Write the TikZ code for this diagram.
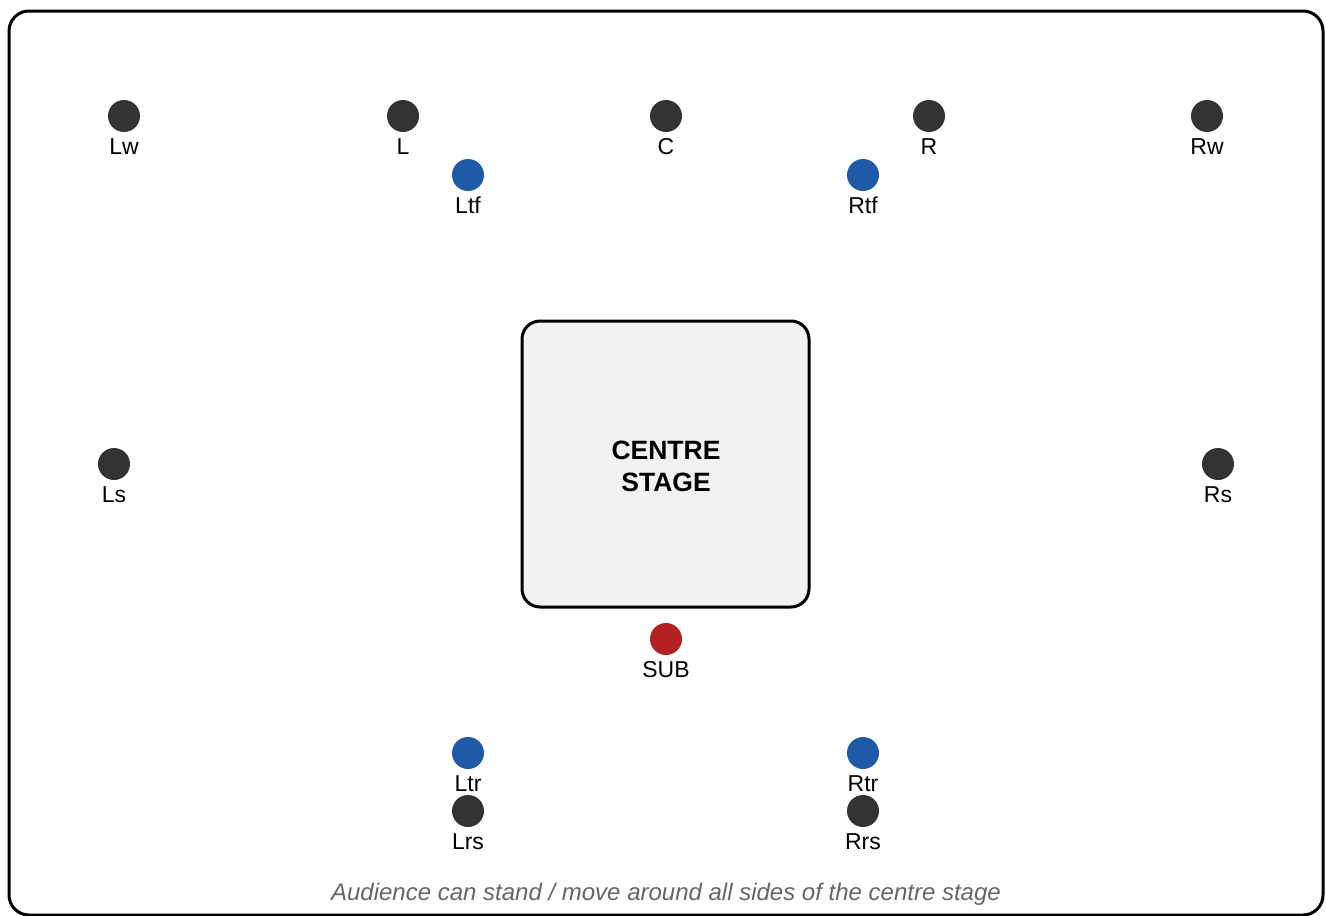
\documentclass[tikz,border=0pt]{standalone}
\usepackage{fontspec}
\setmainfont{Liberation Sans}
\definecolor{spkdark}{HTML}{333333}
\definecolor{spkblue}{HTML}{1F5AA6}
\definecolor{spkred}{HTML}{B22222}
\definecolor{stagefill}{HTML}{F2F2F2}
\definecolor{captgrey}{HTML}{666666}
\begin{document}
\begin{tikzpicture}[x=1pt,y=-1pt,
  spk/.style={circle,inner sep=0pt,minimum size=32pt,draw=none},
  dark/.style={spk,fill=spkdark},
  blue/.style={spk,fill=spkblue},
  red/.style={spk,fill=spkred},
  lbl/.style={inner sep=0pt,font=\fontsize{23}{27}\selectfont,text=black,anchor=base},
  ]
\useasboundingbox (0,0) rectangle (1326,916);
\draw[line width=3pt,rounded corners=20pt,fill=white] (9,11) rectangle (1323,915);
\node[draw,line width=3pt,rounded corners=18pt,fill=stagefill,minimum width=287pt,minimum height=286pt,inner sep=0pt] (stage) at (665.5,464) {};
\node[inner sep=0pt,anchor=base,font=\bfseries\fontsize{26.5}{32}\selectfont] (stage-t1) at (666,459) {CENTRE};
\node[inner sep=0pt,anchor=base,font=\bfseries\fontsize{26.5}{32}\selectfont] (stage-t2) at (666,491) {STAGE};
\foreach \n/\x/\y/\s in {Lw/124/116/dark, L/403/116/dark, C/666/116/dark, R/929/116/dark, Rw/1207/116/dark,
  Ltf/468/175/blue, Rtf/863/175/blue, Ls/114/464/dark, Rs/1218/464/dark, SUB/666/639/red,
  Ltr/468/753/blue, Rtr/863/753/blue, Lrs/468/811/dark, Rrs/863/811/dark}{
  \node[\s] (\n) at (\x,\y) {};
  \node[lbl] (\n-l) at (\x,\y+38) {\n};
}
\node[inner sep=0pt,anchor=base,font=\itshape\fontsize{24}{28}\selectfont,text=captgrey] (cap) at (666,900) {Audience can stand / move around all sides of the centre stage};
\end{tikzpicture}
\end{document}
